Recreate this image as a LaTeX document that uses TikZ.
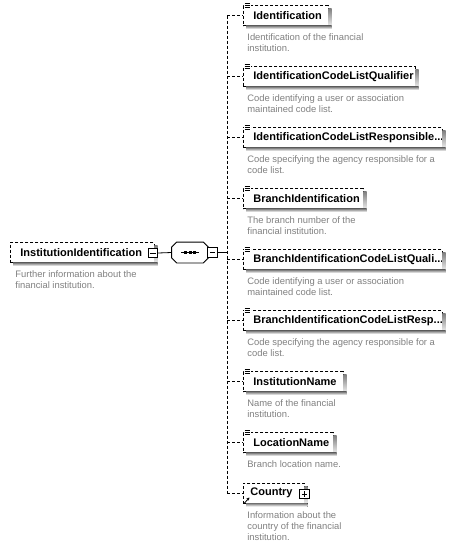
\documentclass[tikz,border=0pt]{standalone}
\usepackage{fontspec}
\setmainfont{Liberation Sans}
\usetikzlibrary{arrows.meta}
\definecolor{desc}{RGB}{128,128,128}
\definecolor{shade}{RGB}{190,190,190}
\newcommand\tdots{...}
\newcommand\octpath[1]{([xshift=5pt]#1.north west) -- ([xshift=-5pt]#1.north east)
  -- ([yshift=-5pt]#1.north east) -- ([yshift=5pt]#1.south east) -- ([xshift=-5pt]#1.south east)
  -- ([xshift=5pt]#1.south west) -- ([yshift=5pt]#1.south west) -- ([yshift=-5pt]#1.north west) -- cycle}
\begin{document}
\begin{tikzpicture}[x=1pt,y=-1pt,
  line width=0.8pt,
  dsh/.style={dash pattern=on 3pt off 2pt},
  elem/.style={draw, dsh, fill=white, anchor=west, minimum height=20pt,
    inner xsep=0pt, inner ysep=0pt,
    font=\fontsize{11}{13}\selectfont\bfseries},
  descr/.style={anchor=north west, inner sep=0pt, align=left, text=desc,
    font=\fontsize{9.4}{11}\selectfont},
  minusbox/.style={draw, solid, fill=white, minimum size=9.5pt, inner sep=0pt,
    line width=0.8pt,
    path picture={\draw[line width=0.8pt] ([xshift=2pt]path picture bounding box.west) -- ([xshift=-2pt]path picture bounding box.east);}},
  plusbox/.style={minusbox,
    path picture={\draw[line width=0.8pt] ([xshift=2pt]path picture bounding box.west) -- ([xshift=-2pt]path picture bounding box.east);
      \draw[line width=0.8pt] ([yshift=-2pt]path picture bounding box.north) -- ([yshift=2pt]path picture bounding box.south);}},
  seqbox/.style={minimum width=36pt, minimum height=20pt, inner sep=0pt},
  conn/.style={draw, dsh, line width=0.8pt}
]
\useasboundingbox (0,0) rectangle (458,547);

% root
\node[elem] (root) at (10,252.5) {\makebox[144pt][l]{\hspace{10pt}InstitutionIdentification}};
\fill[shade] (154.4,245.5) rectangle (157.5,266);
\fill[shade] (13,262.9) rectangle (157.5,266);
\node[minusbox] (rootm) at (153,253) {};
\node[descr] (rootd) at (15,270.5) {Further information about the\\financial institution.};

% sequence compositor
\node[seqbox] (seq) at (190,252.5) {};
\fill[shade, xshift=3pt, yshift=-3pt] \octpath{seq};
\filldraw[fill=white, draw=black] \octpath{seq};
\draw (181,252.5) -- (199,252.5);
\foreach \xx in {185.5,190,194.5}
  \fill (\xx-1.5,251) rectangle (\xx+1.5,254);
\node[minusbox] (seqm) at (212.5,252.5) {};
\draw (rootm.east) -- (seq.west);

\coordinate (trunk) at (227,252.5);
\coordinate (top) at (227,15.5);
\coordinate (bot) at (227,493);
\draw (seqm.east) -- (trunk);
\draw[conn] (top) -- (bot);

% children
\foreach [count=\i] \yy/\ww/\lab/\dsc in {
  15.5/85/Identification/{Identification of the financial\\institution.},
  76.5/172/IdentificationCodeListQualifier/{Code identifying a user or association\\maintained code list.},
  137.5/199/{IdentificationCodeListResponsible\tdots}/{Code specifying the agency responsible for a\\code list.},
  198.5/120/BranchIdentification/{The branch number of the\\financial institution.},
  259.5/199/{BranchIdentificationCodeListQuali\tdots}/{Code identifying a user or association\\maintained code list.},
  320.5/199/{BranchIdentificationCodeListResp\tdots}/{Code specifying the agency responsible for a\\code list.},
  381.5/100/InstitutionName/{Name of the financial\\institution.},
  442.5/90/LocationName/{Branch location name.}}
{
  \node[elem] (c\i) at (243,\yy) {\makebox[\ww pt][l]{\hspace{10pt}\lab}};
  \fill[shade] (243.4+\ww,\yy-7) rectangle (246.5+\ww,\yy+13.5);
  \fill[shade] (246,\yy+10.4) rectangle (246.5+\ww,\yy+13.5);
  \draw[conn] (c\i.west -| trunk) -- (c\i.west);
  \fill[white] (243.5,\yy-13) rectangle (250.5,\yy-6.5);
  \draw[line width=0.7pt] (244.5,\yy-12) -- (250,\yy-12)
    (244.5,\yy-10) -- (250,\yy-10) (244.5,\yy-8) -- (250,\yy-8);
  \node[descr] (d\i) at (247,\yy+18) {\dsc};
}

% Country
\node[elem] (c9) at (243,493) {\makebox[61pt][l]{\hspace{7pt}Country}};
\fill[shade] (304.4,486) rectangle (307.5,506.5);
\fill[shade] (246,503.4) rectangle (307.5,506.5);
\draw[conn] (c9.west -| trunk) -- (c9.west);
\node[plusbox] (c9p) at (304.5,494) {};
\draw[-{Stealth[length=3pt,width=3pt]}, line width=0.8pt] (244.5,503) -- (249.5,497.5);
\node[descr] (d9) at (247,511) {Information about the\\country of the financial\\institution.};
\end{tikzpicture}
\end{document}
